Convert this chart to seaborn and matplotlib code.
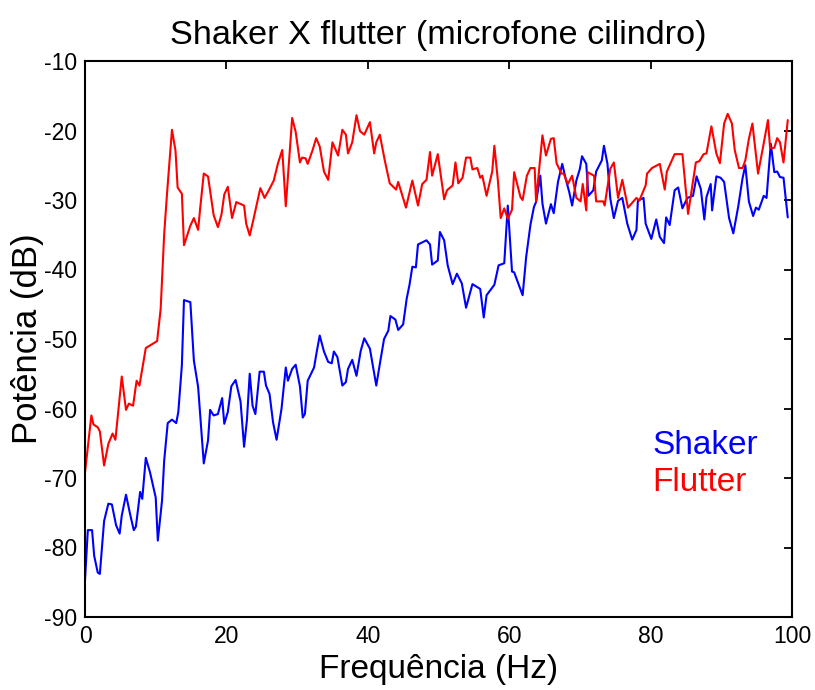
import matplotlib
matplotlib.use("Agg")
import matplotlib.pyplot as plt
import pandas as pd
import seaborn as sns

# ---------------- data ----------------
series_names = ["Shaker", "Flutter"]
series_colors = ["#0000ff", "#ff0000"]

shaker_freq = [0.0, 0.4, 1.0, 1.3, 1.8, 2.1, 2.7, 3.3, 3.8, 4.4, 4.9, 5.2, 5.8, 6.4, 6.9, 7.2, 7.8, 8.1,
               8.6, 9.2, 10.0, 10.3, 10.9, 11.2, 11.7, 12.3, 12.9, 13.2, 13.7, 14.0, 14.9, 15.4, 16.0,
               16.8, 17.4, 17.7, 18.2, 18.8, 19.4, 19.7, 20.2, 20.7, 21.3, 22.0, 22.5, 22.9, 23.3, 23.7,
               24.1, 24.7, 25.3, 25.6, 26.1, 26.6, 27.1, 27.8, 28.4, 28.7, 29.3, 29.8, 30.4, 30.8, 31.1,
               31.5, 32.4, 32.8, 33.2, 33.8, 34.4, 34.9, 35.2, 35.7, 36.4, 36.9, 37.2, 37.8, 38.4, 39.0,
               39.5, 40.3, 41.2, 41.7, 42.3, 42.9, 43.2, 43.9, 44.3, 45.0, 45.5, 45.9, 46.3, 46.8, 47.1,
               48.3, 48.8, 49.1, 49.9, 50.2, 50.8, 51.3, 52.0, 52.6, 53.3, 53.9, 54.8, 55.9, 56.4, 56.8,
               57.9, 58.5, 59.3, 59.8, 60.4, 60.7, 61.9, 62.4, 63.0, 63.5, 63.8, 64.4, 64.7, 65.2, 65.9,
               66.3, 66.9, 67.5, 68.0, 68.5, 68.9, 69.5, 70.0, 70.3, 70.9, 71.2, 71.9, 72.3, 73.1, 73.4,
               73.9, 74.3, 74.8, 75.4, 76.0, 76.7, 77.4, 78.0, 78.2, 79.0, 79.3, 80.1, 80.8, 81.3, 81.9,
               82.2, 82.7, 83.4, 83.9, 84.5, 85.2, 86.0, 86.5, 87.1, 87.6, 87.9, 88.5, 88.7, 89.3, 89.9,
               90.4, 91.1, 91.7, 92.4, 93.0, 93.4, 93.9, 94.5, 94.9, 95.3, 96.0, 96.4, 97.0, 97.5, 97.9,
               98.3, 98.8, 99.4]
shaker_db = [-84.7, -77.5, -77.5, -81.2, -83.6, -83.8, -76.2, -73.7, -73.8, -76.8, -78.0, -75.4, -72.4,
             -75.3, -77.5, -77.0, -72.0, -73.0, -67.1, -69.2, -72.8, -79.0, -73.2, -67.5, -62.1, -61.6,
             -62.1, -60.5, -53.8, -44.4, -44.7, -53.1, -56.9, -67.9, -64.6, -60.2, -61.0, -60.8, -58.5,
             -62.2, -60.5, -56.8, -55.9, -59.0, -65.5, -61.7, -55.0, -59.6, -60.8, -54.7, -54.7, -56.7,
             -57.9, -62.0, -64.5, -60.0, -54.1, -56.0, -54.3, -53.7, -56.8, -61.3, -60.8, -56.0, -54.1,
             -51.7, -49.5, -51.8, -53.3, -53.5, -51.8, -52.6, -56.7, -56.2, -54.3, -53.0, -55.3, -51.7,
             -49.9, -51.4, -56.7, -53.6, -50.0, -48.8, -46.7, -47.2, -48.7, -47.9, -44.2, -42.2, -39.6,
             -39.7, -36.4, -35.8, -36.4, -39.3, -38.7, -34.6, -35.8, -39.4, -42.1, -40.6, -42.0, -45.5,
             -42.1, -42.8, -46.9, -43.7, -42.2, -39.4, -39.1, -30.8, -40.3, -40.4, -43.7, -38.2, -33.6,
             -31.0, -30.3, -26.5, -30.5, -33.4, -30.6, -31.9, -27.4, -24.8, -27.0, -28.9, -30.8, -27.2,
             -25.5, -23.7, -24.8, -29.4, -28.6, -25.9, -24.3, -22.2, -24.8, -29.8, -32.6, -30.1, -29.7,
             -33.4, -35.7, -34.3, -30.1, -29.7, -33.4, -35.6, -32.8, -35.3, -36.2, -32.5, -33.6, -28.6,
             -28.2, -31.2, -29.7, -29.4, -26.6, -28.4, -32.8, -29.6, -27.7, -31.5, -26.6, -26.8, -27.4,
             -32.6, -34.8, -30.9, -26.9, -25.0, -30.2, -32.3, -31.1, -31.4, -29.4, -29.7, -21.9, -26.0,
             -25.9, -26.7, -26.8, -32.5]

flutter_freq = [0.0, 0.3, 0.9, 1.2, 1.8, 2.1, 2.7, 3.3, 3.9, 4.3, 5.2, 5.8, 6.2, 6.8, 7.3, 7.7, 8.6, 10.2,
                10.7, 11.2, 11.6, 12.3, 12.8, 13.1, 13.7, 14.0, 14.9, 15.4, 16.0, 16.3, 16.8, 17.4, 18.2,
                18.8, 19.3, 19.7, 20.2, 20.8, 21.4, 22.5, 22.8, 23.3, 23.8, 24.8, 25.4, 26.1, 26.7, 27.3,
                27.9, 28.4, 29.3, 29.8, 30.4, 30.7, 31.2, 31.5, 32.2, 32.7, 33.2, 33.8, 34.4, 35.0, 35.8,
                36.4, 36.9, 37.2, 37.8, 38.4, 38.9, 39.5, 40.3, 40.9, 41.2, 41.7, 42.4, 43.1, 44.0, 44.3,
                45.4, 46.3, 47.1, 47.7, 48.3, 48.8, 49.1, 49.9, 50.8, 51.2, 52.0, 52.4, 52.8, 53.4, 53.9,
                54.5, 54.8, 55.5, 55.9, 56.2, 56.8, 57.6, 57.9, 58.4, 58.8, 59.3, 59.8, 60.4, 60.7, 61.6,
                61.9, 62.5, 63.0, 63.6, 63.8, 64.7, 65.2, 65.9, 66.3, 66.7, 67.4, 67.7, 68.3, 68.9, 69.5,
                70.1, 70.4, 70.9, 71.1, 72.0, 72.3, 73.3, 73.5, 74.3, 74.8, 75.4, 76.0, 76.8, 78.0, 78.4,
                79.3, 79.5, 80.2, 81.3, 82.0, 82.3, 83.4, 84.5, 85.3, 86.4, 86.9, 87.5, 87.9, 88.6, 89.3,
                89.8, 90.4, 90.9, 91.5, 91.9, 92.5, 93.0, 93.4, 93.9, 94.4, 95.2, 95.9, 96.6, 96.9, 97.5,
                97.9, 98.3, 98.8, 99.4]
flutter_db = [-69.2, -66.5, -61.0, -62.3, -62.7, -63.3, -68.2, -65.1, -63.6, -64.5, -55.4, -60.2, -59.3,
              -59.6, -56.0, -56.7, -51.3, -50.3, -45.7, -34.9, -29.1, -19.9, -22.9, -28.2, -29.1, -36.5,
              -33.7, -32.6, -34.3, -31.1, -26.2, -26.6, -32.2, -33.9, -32.1, -29.2, -28.1, -32.6, -30.3,
              -30.8, -33.4, -35.1, -32.9, -28.3, -29.7, -28.4, -27.2, -24.7, -22.8, -30.9, -18.2, -20.2,
              -24.6, -23.9, -24.0, -24.8, -22.8, -21.1, -22.3, -25.9, -27.1, -21.7, -23.6, -19.9, -20.6,
              -23.3, -21.7, -17.8, -20.1, -20.6, -18.8, -23.3, -21.7, -20.6, -24.3, -27.6, -28.5, -27.4,
              -31.1, -27.2, -30.8, -27.7, -27.1, -23.1, -26.5, -23.4, -29.9, -28.6, -27.9, -24.6, -27.6,
              -26.8, -23.9, -23.9, -25.6, -25.4, -26.8, -26.5, -29.4, -25.9, -22.2, -27.2, -32.6, -31.2,
              -32.7, -31.4, -26.0, -29.6, -30.0, -26.5, -25.4, -25.4, -30.2, -20.7, -23.6, -21.2, -21.1,
              -24.7, -26.2, -26.2, -27.7, -26.5, -29.7, -30.2, -27.7, -31.5, -26.0, -26.5, -30.2, -30.2,
              -30.8, -25.5, -24.6, -29.7, -27.1, -31.1, -29.7, -30.1, -27.9, -26.2, -25.4, -24.8, -28.5,
              -25.9, -23.4, -23.4, -32.0, -24.6, -24.4, -23.4, -23.3, -19.4, -23.3, -24.7, -19.0, -17.6,
              -19.0, -22.8, -25.4, -25.4, -24.3, -21.2, -19.0, -26.2, -22.4, -18.5, -22.5, -22.5, -21.1,
              -21.7, -24.6, -18.5]

x_ticks = [0, 20, 40, 60, 80, 100]
y_ticks = [-90, -80, -70, -60, -50, -40, -30, -20, -10]
title_text = "Shaker X flutter (microfone cilindro)"
x_label = "Frequência (Hz)"
y_label = "Potência (dB)"

# ---------------- styling ----------------
sns.set_theme(style="white")
plt.rcParams["font.family"] = ["Liberation Sans", "DejaVu Sans"]
plt.rcParams["axes.unicode_minus"] = False
plt.rcParams["text.color"] = "black"
plt.rcParams["axes.labelcolor"] = "black"

df = pd.concat([
    pd.DataFrame({x_label: shaker_freq, y_label: shaker_db, "Sinal": series_names[0]}),
    pd.DataFrame({x_label: flutter_freq, y_label: flutter_db, "Sinal": series_names[1]}),
], ignore_index=True)

fig = plt.figure(figsize=(8.15, 6.9), dpi=100)
ax = fig.add_axes([85 / 815, 73 / 690, 707 / 815, 556 / 690])

sns.lineplot(data=df, x=x_label, y=y_label, hue="Sinal", hue_order=series_names,
             palette=dict(zip(series_names, series_colors)), sort=False, estimator=None,
             linewidth=1.5, ax=ax)

ax.set_xlim(0, 100)
ax.set_ylim(-90, -10)
ax.set_xticks(x_ticks)
ax.set_yticks(y_ticks)
ax.tick_params(direction="in", length=6, width=1.3, top=True, right=True,
               labelsize=16.5, colors="black", pad=6)
for sp in ax.spines.values():
    sp.set_color("black")
    sp.set_linewidth(1.5)

ax.set_title(title_text, fontsize=24.7, pad=12, color="black")
ax.set_xlabel(x_label, fontsize=24, labelpad=4, color="black")
ax.set_ylabel(y_label, fontsize=25, labelpad=0, color="black")

leg = ax.legend(loc="upper left", bbox_to_anchor=(0.803, 0.337), frameon=False,
                fontsize=24, handlelength=0, handletextpad=0, borderpad=0,
                labelspacing=0.2, borderaxespad=0)
for h in leg.legend_handles:
    h.set_visible(False)
for t, c in zip(leg.get_texts(), series_colors):
    t.set_color(c)

fig.savefig("out.png", dpi=100, facecolor="white")
